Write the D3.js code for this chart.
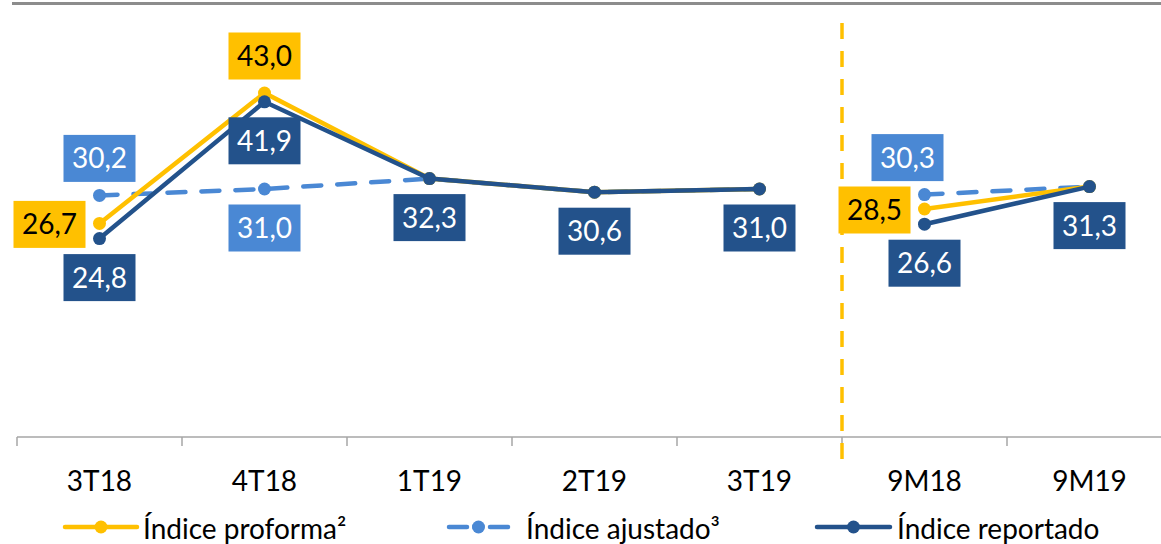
<!DOCTYPE html>
<html>
<head>
<meta charset="utf-8">
<script src="https://cdn.jsdelivr.net/npm/d3@7"></script>
<style>
  html, body { margin: 0; padding: 0; background: #fff; }
  svg { display: block; }
</style>
</head>
<body>
<div id="chart"></div>
<script>
// categories & series
const categories = ["3T18", "4T18", "1T19", "2T19", "3T19", "9M18", "9M19"];
const proforma  = [26.7, 43.0, 32.3, 30.6, 31.0, 28.5, 31.3];
const ajustado  = [30.2, 31.0, 32.3, 30.6, 31.0, 30.3, 31.3];
const reportado = [24.8, 41.9, 32.3, 30.6, 31.0, 26.6, 31.3];
// where each data label sits (null = no label shown)
const proformaLabels  = ["left", "above", null, null, null, "left", null];
const ajustadoLabels  = ["above", "below", null, null, null, "above", null];
const reportadoLabels = ["below", "below", "below", "below", "below", "below", "below"];
// lines are broken between quarterly and 9-month figures
const segments = [[0, 4], [5, 6]];
const legendNames = ["Índice proforma²", "Índice ajustado³", "Índice reportado"];

const sizes = {width: 1161, height: 544};
const font = "Lato, 'Open Sans', sans-serif";
const colours = {proforma: "#FFC000", ajustado: "#4A88D4", reportado: "#23528B"};

const svg = d3.select("#chart").append("svg")
  .attr("width", sizes.width)
  .attr("height", sizes.height)
  .attr("viewBox", `0 0 ${sizes.width} ${sizes.height}`);

const x = d3.scaleBand()
  .domain(categories)
  .range([17, 1172]);

const y = d3.scaleLinear()
  .domain([0, 50])
  .range([437, 37]);

const cx = (i) => x(categories[i]) + x.bandwidth() / 2;

// top border line
svg.append("line")
  .attr("x1", 12).attr("x2", sizes.width)
  .attr("y1", 3.5).attr("y2", 3.5)
  .attr("stroke", "#8c8c8c")
  .attr("stroke-width", 3);

// x axis: ticks on band edges
const xAxis = svg.append("g").attr("transform", `translate(0,${y(0)})`);
xAxis.append("line")
  .attr("x1", x.range()[0]).attr("x2", sizes.width)
  .attr("stroke", "#a6a6a6").attr("stroke-width", 1.5);
xAxis.selectAll("line.tick")
  .data(categories)
  .enter().append("line")
    .attr("class", "tick")
    .attr("x1", (d) => x(d)).attr("x2", (d) => x(d))
    .attr("y1", 0).attr("y2", 9)
    .attr("stroke", "#a6a6a6").attr("stroke-width", 1.5);
xAxis.selectAll("text")
  .data(categories)
  .enter().append("text")
    .text((d) => d)
    .attr("x", (d) => x(d) + x.bandwidth() / 2)
    .attr("y", 54)
    .style("text-anchor", "middle")
    .style("font-size", "28px")
    .style("font-family", font)
    .style("fill", "#000");

// dashed separator between quarters and 9M
svg.append("line")
  .attr("x1", x("9M18")).attr("x2", x("9M18"))
  .attr("y1", 23).attr("y2", 463)
  .attr("stroke", colours.proforma)
  .attr("stroke-width", 3.5)
  .style("stroke-dasharray", "16 12");

const line = d3.line()
  .x((d) => cx(d.i))
  .y((d) => y(d.v));

const drawSeries = (values, colour, dashed) => {
  const g = svg.append("g");
  segments.forEach(([a, b]) => {
    const pts = d3.range(a, b + 1).map((i) => ({i, v: values[i]}));
    g.append("path")
      .attr("fill", "none")
      .attr("stroke", colour)
      .attr("stroke-width", 4.5)
      .attr("stroke-linecap", dashed ? "round" : "butt")
      .style("stroke-dasharray", dashed ? "18 16" : null)
      .attr("d", line(pts));
  });
  g.selectAll("circle")
    .data(values)
    .enter().append("circle")
      .attr("cx", (d, i) => cx(i))
      .attr("cy", (d) => y(d))
      .attr("r", 6.5)
      .attr("fill", colour);
};

drawSeries(ajustado, colours.ajustado, true);
drawSeries(proforma, colours.proforma, false);
drawSeries(reportado, colours.reportado, false);

// data labels
const fmt = (v) => d3.format(".1f")(v).replace(".", ",");
const boxW = 72, boxH = 47;
const drawLabels = (values, places, fill, textFill, nudge = {}) => {
  const g = svg.append("g");
  values.forEach((v, i) => {
    const p = places[i];
    if (!p) return;
    let mx = cx(i), my = y(v);
    if (p === "above") my -= 37;
    if (p === "below") my += 39;
    if (p === "left") { mx -= 50; my += 1; }
    mx += nudge[i] || 0;
    g.append("rect")
      .attr("x", mx - boxW / 2).attr("y", my - boxH / 2)
      .attr("width", boxW).attr("height", boxH)
      .attr("fill", fill);
    g.append("text")
      .text(fmt(v))
      .attr("x", mx).attr("y", my + 10)
      .style("text-anchor", "middle")
      .style("font-size", "28px")
      .style("font-family", font)
      .style("fill", textFill);
  });
};

drawLabels(ajustado, ajustadoLabels, colours.ajustado, "#fff", {5: -17});
drawLabels(proforma, proformaLabels, colours.proforma, "#000");
drawLabels(reportado, reportadoLabels, colours.reportado, "#fff");

// legend
const legendItems = [
  {name: legendNames[0], colour: colours.proforma, dashed: false, x0: 65, x1: 137, tx: 143},
  {name: legendNames[1], colour: colours.ajustado, dashed: true, x0: 447, x1: 510, tx: 526},
  {name: legendNames[2], colour: colours.reportado, dashed: false, x0: 817, x1: 890, tx: 897}
];
const legend = svg.append("g");
legendItems.forEach((it) => {
  const ly = 527;
  if (it.dashed) {
    legend.append("line")
      .attr("x1", it.x0 + 2).attr("x2", it.x0 + 20).attr("y1", ly).attr("y2", ly)
      .attr("stroke", it.colour).attr("stroke-width", 4.5).attr("stroke-linecap", "round");
    legend.append("line")
      .attr("x1", it.x1 - 20).attr("x2", it.x1 - 2).attr("y1", ly).attr("y2", ly)
      .attr("stroke", it.colour).attr("stroke-width", 4.5).attr("stroke-linecap", "round");
    legend.append("line")
      .attr("x1", (it.x0 + it.x1) / 2 - 6).attr("x2", (it.x0 + it.x1) / 2).attr("y1", ly).attr("y2", ly)
      .attr("stroke", it.colour).attr("stroke-width", 4.5);
  } else {
    legend.append("line")
      .attr("x1", it.x0).attr("x2", it.x1).attr("y1", ly).attr("y2", ly)
      .attr("stroke", it.colour).attr("stroke-width", 4.5).attr("stroke-linecap", "round");
  }
  legend.append("circle")
    .attr("cx", (it.x0 + it.x1) / 2).attr("cy", ly).attr("r", 6.5)
    .attr("fill", it.colour);
  legend.append("text")
    .text(it.name)
    .attr("x", it.tx).attr("y", 539)
    .style("font-size", "28px")
    .style("font-family", font)
    .style("fill", "#000");
});
</script>
</body>
</html>
